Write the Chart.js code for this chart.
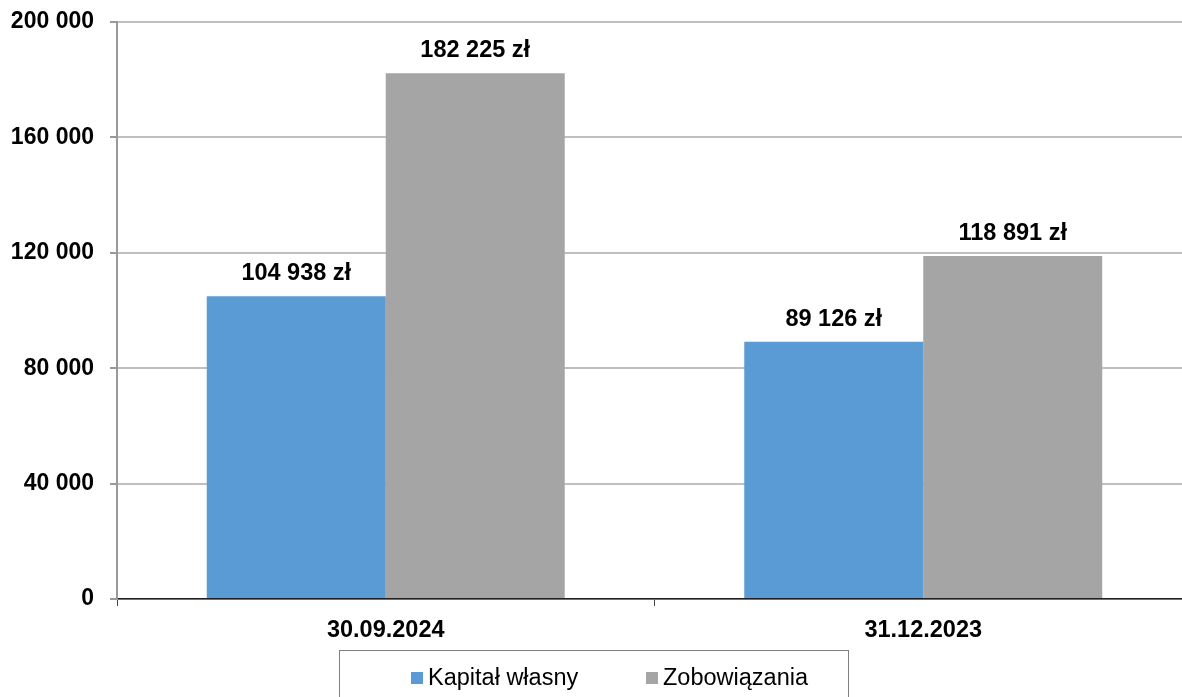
<!DOCTYPE html>
<html>
<head>
<meta charset="utf-8">
<script src="https://cdn.jsdelivr.net/npm/chart.js@4.4.1/dist/chart.umd.min.js"></script>
<style>
  html, body { margin:0; padding:0; background:#fff; }
  #wrap { position:relative; width:1182px; height:697px; overflow:hidden; }
  #legend {
    position:absolute; left:339px; top:650px; width:510px; height:70px;
    border:1.5px solid #7f7f7f; box-sizing:border-box;
    font-family:'Liberation Sans', Arial, sans-serif; font-size:23.5px; color:#000;
  }
  .item { position:absolute; top:14px; display:flex; align-items:flex-end; line-height:24px; }
  .sw { width:12px; height:12px; margin-right:5px; margin-bottom:5px; }
</style>
</head>
<body>
<div id="wrap">
  <canvas id="c" width="1192" height="697"></canvas>
  <div id="legend"></div>
</div>
<script>
// ---------------------------------------------------------------
// Data
// ---------------------------------------------------------------
const categories = ['30.09.2024', '31.12.2023'];
const seriesNames = ['Kapitał własny', 'Zobowiązania'];
const kapital = [104938, 89126];
const zobowiazania = [182225, 118891];
const yTicks = [0, 40000, 80000, 120000, 160000, 200000];
const colors = ['#5B9BD5', '#A5A5A5'];

const FONT = "'Liberation Sans', Arial, sans-serif";

function fmt(v){
  return String(v).replace(/\B(?=(\d{3})+(?!\d))/g, ' ');
}

// value labels above each bar
const valueLabels = {
  id: 'valueLabels',
  afterDatasetsDraw(chart){
    const ctx = chart.ctx;
    ctx.save();
    ctx.font = 'bold 23.5px ' + FONT;
    ctx.fillStyle = '#000';
    ctx.textAlign = 'center';
    ctx.textBaseline = 'alphabetic';
    chart.data.datasets.forEach((ds, di) => {
      chart.getDatasetMeta(di).data.forEach((bar, i) => {
        ctx.fillText(fmt(ds.data[i]) + ' zł', bar.x, bar.y - 16);
      });
    });
    ctx.restore();
  }
};

new Chart(document.getElementById('c'), {
  type: 'bar',
  data: {
    labels: categories,
    datasets: [
      { label: seriesNames[0], data: kapital, backgroundColor: colors[0] },
      { label: seriesNames[1], data: zobowiazania, backgroundColor: colors[1] }
    ]
  },
  options: {
    responsive: false,
    animation: false,
    devicePixelRatio: 1,
    layout: { padding: { top: 22, right: 0, bottom: 42, left: 0 } },
    datasets: { bar: { categoryPercentage: 0.666, barPercentage: 1.0, borderWidth: 0 } },
    plugins: { legend: { display: false }, tooltip: { enabled: false } },
    scales: {
      x: {
        offset: true,
        grid: { offset: true, drawOnChartArea: false, drawTicks: true, tickLength: 7, tickColor: '#404040', tickWidth: 1 },
        border: { color: '#202020', width: 1.5 },
        ticks: { color: '#000', font: { family: FONT, size: 23.5, weight: 'bold' }, padding: 10 },
        afterFit(s){ s.height = 56; }
      },
      y: {
        min: 0, max: 200000,
        afterBuildTicks(s){ s.ticks = yTicks.map(v => ({ value: v })); },
        grid: { color: '#BFBFBF', lineWidth: 2, tickLength: 7, tickColor: '#999999' },
        border: { color: '#999999', width: 2 },
        ticks: {
          color: '#000', padding: 16,
          font: { family: FONT, size: 23, weight: 'bold' },
          callback: v => fmt(v)
        },
        afterFit(s){ s.width = 117; s.paddingTop = 0; s.paddingBottom = 0; }
      }
    }
  },
  plugins: [valueLabels]
});

// legend
const legend = document.getElementById('legend');
const lefts = [71, 306];
legend.innerHTML = seriesNames.map((n, i) =>
  `<div class="item" style="left:${lefts[i]}px"><span class="sw" style="background:${colors[i]}"></span><span>${n}</span></div>`
).join('');
</script>
</body>
</html>
